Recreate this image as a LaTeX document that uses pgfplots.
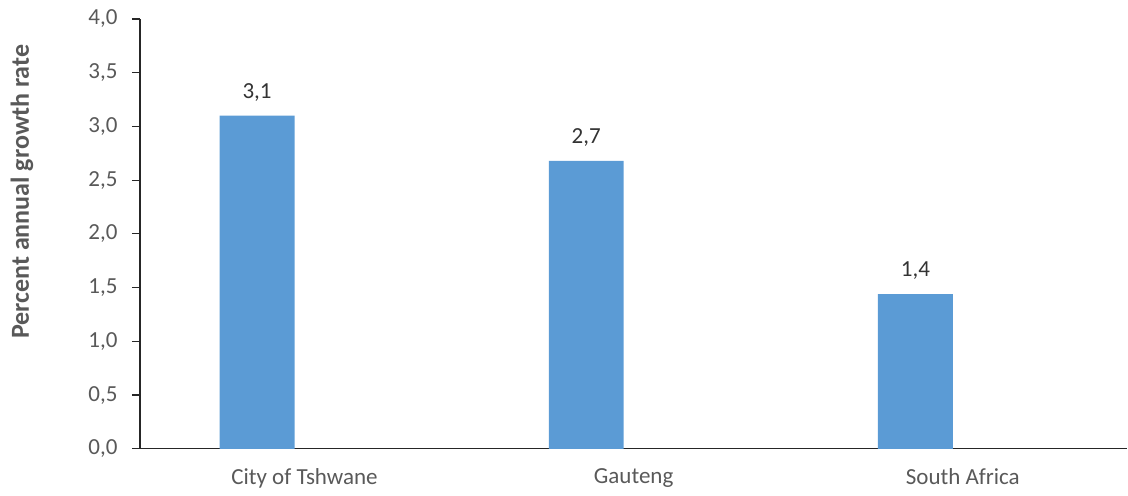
\documentclass[border=0pt]{standalone}
\usepackage{pgfplots}
\pgfplotsset{compat=1.18}
\usepackage{fontspec}
\setmainfont{Carlito}
\definecolor{barblue}{HTML}{5B9BD5}
\definecolor{txtgray}{HTML}{595959}
\begin{document}
\begin{tikzpicture}
\begin{axis}[
  scale only axis,
  width=988pt, height=430pt,
  xmin=-0.5, xmax=2.5,
  ymin=0, ymax=4,
  ytick={0,0.5,...,4},
  axis x line*=bottom,
  axis y line*=left,
  axis line style={black!85, line width=1.2pt},
  xtick={0,1,2},
  xticklabels={City of Tshwane, Gauteng, South Africa},
  extra x ticks={-0.5,0.5,1.5},
  extra x tick labels={},
  extra x tick style={major tick length=7pt, tick style={black!85,line width=1.2pt}},
  x tick style={draw=none},
  y tick style={black!85, line width=1.2pt},
  major tick length=8pt,
  tick align=outside,
  tick label style={font=\fontsize{23}{27}\selectfont, text=txtgray},
  yticklabel style={xshift=-11pt, /pgf/number format/.cd, fixed, fixed zerofill, precision=1, use comma, assume math mode=true},
  xticklabel style={yshift=-8pt},
  clip=false,
  enlargelimits=false,
]
\addplot[ybar, bar width=75pt, fill=barblue, draw=none, bar shift=0pt,
  nodes near coords,
  every node near coord/.append style={font=\fontsize{23}{27}\selectfont, text=black!80, yshift=11pt},
  nodes near coords style={/pgf/number format/.cd, fixed, fixed zerofill, precision=1, use comma, assume math mode=true},
] coordinates {(-0.144,3.10) (0.856,2.68) (1.856,1.44)};
\node[rotate=90, font=\fontsize{26}{30}\selectfont\bfseries, text=txtgray] at (rel axis cs:-0.1194,0.598) {Percent annual growth rate};
\coordinate (bl) at (rel axis cs:-0.1417,-0.1093);
\coordinate (tr) at (rel axis cs:1,1.0442);
\end{axis}
\path (bl) rectangle (tr);
\end{tikzpicture}
\end{document}
